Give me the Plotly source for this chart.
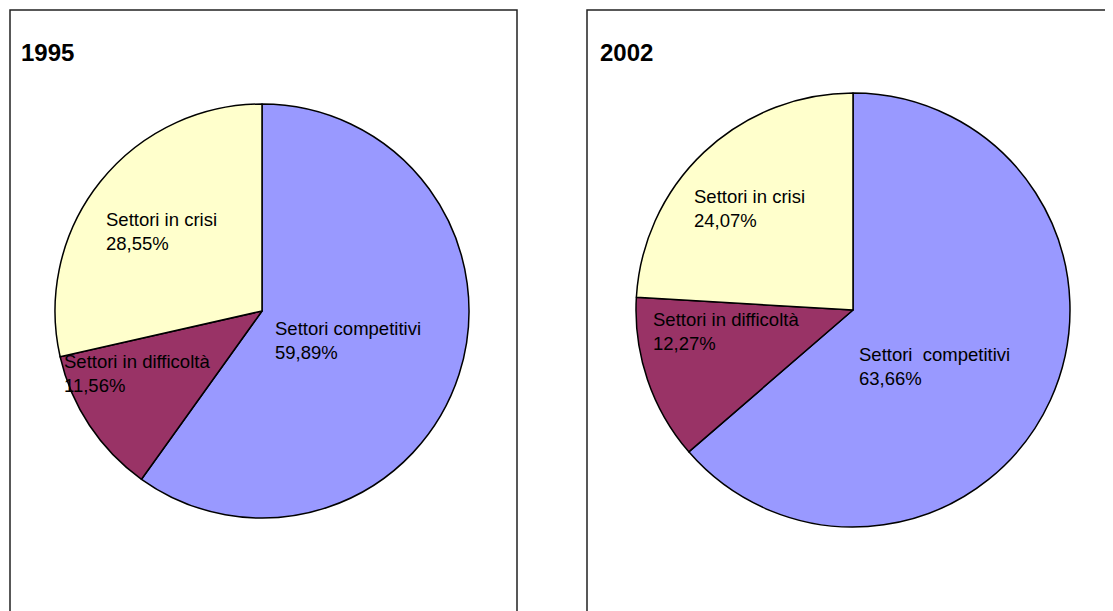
import plotly.graph_objects as go

sectors = ["Settori competitivi", "Settori in difficoltà", "Settori in crisi"]
share_1995 = [59.89, 11.56, 28.55]
share_2002 = [63.66, 12.27, 24.07]
years = ["1995", "2002"]
colors = ["#9999FF", "#993366", "#FFFFCC"]

# the page body has an 8px margin, so work in window pixels and shift
OFF = 8
W, H = 1113, 611 - OFF

def px(x):
    return (x - OFF) / W

def py(y):
    return 1 - (y - OFF) / H

fig = go.Figure()

# pie placement in pixels: (left, right, top, bottom)
boxes = [(55, 469, 104, 518), (636, 1070, 93, 527)]
for vals, (l, r, t, b) in zip([share_1995, share_2002], boxes):
    fig.add_trace(go.Pie(
        labels=sectors, values=vals, sort=False, direction="clockwise",
        rotation=0, textinfo="none", hoverinfo="label+percent",
        marker=dict(colors=colors, line=dict(color="black", width=1.5)),
        domain=dict(x=[px(l), px(r)], y=[py(b), py(t)]),
        showlegend=False,
    ))

# panel frames
fig.add_shape(type="rect", xref="paper", yref="paper",
              x0=px(10), x1=px(517), y0=-0.1, y1=py(10),
              line=dict(color="#222", width=1.5))
fig.add_shape(type="rect", xref="paper", yref="paper",
              x0=px(587), x1=1.1, y0=-0.1, y1=py(10),
              line=dict(color="#222", width=1.5))

# titles
for yr, (x, y) in zip(years, [(19, 53), (598, 52)]):
    fig.add_annotation(text="<b>%s</b>" % yr, x=px(x), y=py(y), xref="paper", yref="paper",
                       xanchor="left", yanchor="middle", showarrow=False,
                       font=dict(size=24, color="black", family="Liberation Sans, Arial"))

def pct(v):
    return ("%.2f%%" % v).replace(".", ",")

# label positions (left edge, centre of first line)
label_pos = [
    [(273, 328), (62, 361), (104, 219)],
    [(857, 354), (651, 319), (692, 196)],
]
names = [sectors, ["Settori  competitivi", "Settori in difficoltà", "Settori in crisi"]]
for vals, pos, nm in zip([share_1995, share_2002], label_pos, names):
    for v, (x, y), n in zip(vals, pos, nm):
        for i, line in enumerate([n, pct(v)]):
            fig.add_annotation(text=line.replace("  ", "&nbsp; "), x=px(x), y=py(y + i * 24.5),
                               xref="paper", yref="paper", xanchor="left", yanchor="middle",
                               showarrow=False,
                               font=dict(size=18.5, color="black", family="Liberation Sans, Arial"))

fig.update_layout(width=W, height=H, margin=dict(l=0, r=0, t=0, b=0),
                  paper_bgcolor="white", plot_bgcolor="white")

fig.write_html("out.html")
